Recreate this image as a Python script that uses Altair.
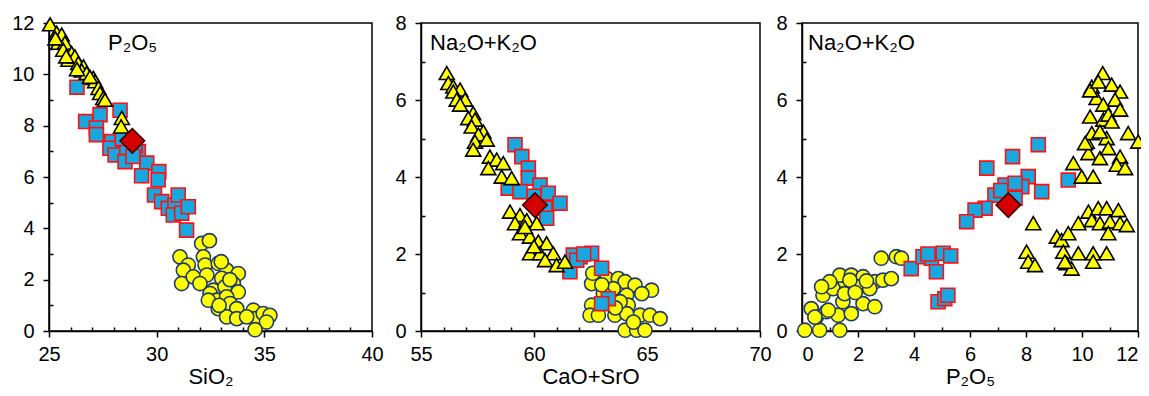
import altair as alt
import pandas as pd

# ---------------- Panel 1: P2O5 vs SiO2 ----------------
p1_tri_x = [25.05, 25.36, 25.59, 25.43, 25.74, 25.66, 26.05, 25.9, 26.2, 26.36, 26.6, 26.52, 26.75,
            27.06, 27.14, 26.9, 27.3, 27.37, 27.52, 27.6, 28.38, 28.35, 25.3, 25.8, 26.3]
p1_tri_y = [11.95, 11.62, 11.55, 11.23, 11.23, 10.96, 10.83, 10.57, 10.7, 10.44, 10.31, 10.15, 10.05,
            9.86, 9.73, 9.9, 9.47, 9.27, 9.08, 9.01, 8.3, 7.97, 11.4, 10.7, 10.2]
p1_sq_x = [26.3, 26.7, 27.37, 27.2, 27.2, 27.91, 27.83, 28.07, 28.61, 28.53, 28.3, 29.15, 29.0, 29.54,
           29.3, 30.1, 30.07, 29.9, 30.23, 30.54, 30.85, 31.0, 30.77, 31.16, 31.47, 31.39, 28.4, 28.9]
p1_sq_y = [9.5, 8.16, 8.43, 7.91, 7.65, 7.38, 7.12, 6.86, 6.99, 6.6, 8.6, 6.99, 7.2, 6.54,
           6.05, 6.21, 5.89, 5.3, 5.04, 4.78, 4.91, 5.3, 4.52, 4.59, 4.84, 3.93, 7.5, 6.8]
p1_ci_x = [32.09, 32.45, 31.08, 31.47, 31.24, 31.16, 31.7, 32.17, 32.25, 32.86, 32.33, 33.25, 33.79,
           33.02, 33.56, 32.63, 32.48, 33.17, 33.79, 32.79, 33.25, 33.41, 32.86, 33.72, 33.25, 33.72,
           34.49, 34.57, 34.95, 35.26, 35.1, 34.57, 34.18, 32.4, 32.01, 33.0, 33.4, 32.9]
p1_ci_y = [3.41, 3.52, 2.89, 2.57, 2.37, 1.85, 2.11, 2.89, 2.57, 2.63, 2.18, 2.37, 2.24,
           2.05, 1.85, 1.59, 1.46, 1.72, 1.52, 1.2, 1.33, 1.07, 0.87, 0.87, 0.55, 0.48,
           0.81, 0.48, 0.68, 0.61, 0.35, 0.05, 0.55, 1.2, 1.85, 2.7, 2.0, 1.0]
p1_dia_x = [28.87]
p1_dia_y = [7.41]

# ---------------- Panel 2: Na2O+K2O vs CaO+SrO ----------------
p2_tri_x = [56.14, 56.21, 56.43, 56.73, 56.43, 56.58, 56.95, 56.73, 57.31, 57.09, 57.39, 57.24, 57.76,
            57.54, 57.39, 57.91, 57.31, 58.05, 58.35, 57.98, 58.64, 58.57, 59.01, 58.94, 59.38, 59.16,
            59.68, 60.12, 59.38, 59.82, 60.19, 60.56, 59.82, 60.27, 60.85, 60.49, 61.0, 61.37, 60.0, 59.6]
p2_tri_y = [6.70, 6.44, 6.35, 6.27, 6.22, 6.01, 6.01, 5.88, 5.66, 5.53, 5.49, 5.31, 5.18,
            5.10, 4.92, 4.97, 4.71, 4.53, 4.45, 4.23, 4.36, 4.01, 3.97, 3.10, 3.01, 2.80,
            2.88, 2.80, 2.54, 2.45, 2.32, 2.28, 2.02, 2.02, 2.02, 1.84, 1.71, 1.80, 2.2, 2.7]
p2_sq_x = [59.16, 59.46, 59.75, 59.75, 60.27, 58.86, 59.38, 60.63, 61.15, 60.49, 60.56, 60.0,
           62.04, 62.55, 61.74, 61.59, 62.99, 61.89, 62.2, 63.29, 62.99]
p2_sq_y = [4.84, 4.53, 4.23, 3.97, 3.79, 3.71, 3.62, 3.58, 3.32, 3.19, 2.93, 3.5,
           1.93, 2.02, 1.97, 1.54, 1.63, 1.84, 2.0, 0.84, 0.71]
p2_ci_x = [62.77, 62.55, 63.22, 63.73, 64.03, 64.47, 65.2, 63.51, 63.07, 64.10, 64.77, 62.55, 62.48,
           62.85, 63.58, 64.17, 64.69, 65.13, 65.58, 64.10, 64.03, 64.54, 64.91, 64.40, 63.81, 62.6,
           63.0, 63.6]
p2_ci_y = [1.36, 1.23, 1.36, 1.36, 1.28, 1.19, 1.06, 1.10, 0.97, 0.93, 0.97, 0.67, 0.41,
           0.41, 0.41, 0.67, 0.41, 0.41, 0.32, 0.45, 0.02, 0.02, 0.02, 0.23, 0.76, 1.5,
           1.2, 0.6]
p2_dia_x = [60.04]
p2_dia_y = [3.27]

# ---------------- Panel 3: Na2O+K2O vs P2O5 ----------------
p3_ci_x = [0.1, 0.63, 1.35, 0.33, 0.51, 0.87, 1.29, 0.75, 1.46, 1.76, 1.40, 1.35, 1.76, 2.18, 2.6,
           2.18, 2.6, 2.06, 2.42, 2.89, 3.19, 2.83, 3.37, 3.55, 1.11, 0.99, 1.52, 0.70, 1.71, 0.46,
           0.94, 2.3, 1.9]
p3_ci_y = [0.02, 0.02, 0.02, 0.58, 0.36, 0.5, 0.41, 0.93, 0.76, 0.45, 1.1, 1.45, 1.45, 1.41, 1.28,
           0.71, 0.63, 1.15, 1.1, 1.32, 1.36, 1.89, 1.93, 1.89, 1.1, 1.28, 0.97, 1.15, 1.32, 0.36,
           0.54, 1.3, 1.0]
p3_sq_x = [3.9, 4.32, 4.62, 4.8, 5.04, 5.31, 4.5, 4.86, 5.1, 5.21, 8.44, 7.52, 6.6, 8.08, 7.85,
           7.25, 7.61, 8.56, 6.89, 9.51, 6.54, 6.18, 5.88, 7.61, 7.1]
p3_sq_y = [1.62, 1.93, 1.89, 1.54, 2.02, 1.95, 2.0, 0.76, 0.84, 0.93, 4.84, 4.53, 4.23, 4.01, 3.75,
           3.79, 3.84, 3.62, 3.53, 3.92, 3.19, 3.14, 2.84, 3.45, 3.65]
p3_tri_x = [10.74, 10.35, 11.06, 11.36, 10.52, 11.18, 10.76, 11.36, 10.29, 10.76, 10.94, 10.17, 10.35,
            10.88, 10.64, 11.65, 12.01, 10.23, 10.64, 10.94, 11.36, 11.24, 11.54, 9.69, 9.99, 10.40,
            10.29, 10.58, 11.06, 10.11,
            8.26, 8.02, 8.08, 8.32, 9.10, 9.27, 9.51, 9.87, 10.23, 10.58, 10.88, 11.30, 10.35,
            10.64, 11.0, 11.36, 10.94, 9.33, 9.87, 10.40, 10.88, 9.45, 9.63, 10.40, 11.6, 9.39]
p3_tri_y = [6.70, 6.35, 6.40, 6.22, 6.05, 6.01, 5.88, 5.75, 5.57, 5.49, 5.62, 4.92, 5.14,
            5.01, 5.18, 5.14, 4.92, 4.62, 4.49, 4.75, 4.53, 4.32, 4.23, 4.36, 4.01, 4.01,
            6.25, 6.48, 5.44, 4.88,
            2.80, 2.06, 1.80, 1.71, 2.45, 2.36, 2.54, 2.80, 3.10, 3.19, 3.19, 3.14, 2.88,
            2.80, 2.84, 2.80, 2.54, 2.06, 2.02, 2.02, 2.02, 1.76, 1.62, 1.80, 2.75, 1.80]
p3_dia_x = [7.37]
p3_dia_y = [3.27]

FONT = "Liberation Sans"
YELLOW = "#FFFF00"
BLUE = "#18A8E0"
RED = "#FF1010"
NAVY = "#1F3A6E"
DIA_FILL = "#D40000"
DIA_STROKE = "#3A0000"


def df(xs, ys):
    return pd.DataFrame({"x": xs, "y": ys})


def panel(xtitle, label, xdom, ydom, xmaj, ymaj, groups, width, height, label_dx, flush=False):
    xs = alt.Scale(domain=xdom, nice=False, zero=False)
    ys = alt.Scale(domain=ydom, nice=False, zero=False)
    xmajor = [v for v in range(xdom[0], xdom[1] + 1) if v % xmaj == 0]
    xminor = [v for v in range(xdom[0], xdom[1] + 1) if v % xmaj != 0]
    ymajor = [v for v in range(ydom[0], ydom[1] + 1) if v % ymaj == 0]
    yminor = [v for v in range(ydom[0], ydom[1] + 1) if v % ymaj != 0]
    xaxis = alt.Axis(title=xtitle, orient="bottom", values=xmajor, tickSize=6, labelPadding=7,
                     labelFlush=flush, labelOverlap=False, titlePadding=2)
    yaxis = alt.Axis(title=None, orient="left", values=ymajor, tickSize=6, labelPadding=9,
                     labelFlush=False, labelOverlap=False)
    xaxis_minor = alt.Axis(title=None, orient="bottom", values=xminor, labels=False, domain=False,
                           tickSize=alt.ExprRef("-4"))
    yaxis_minor = alt.Axis(title=None, orient="left", values=yminor, labels=False, domain=False,
                           tickSize=alt.ExprRef("-4"))
    circ, sq, tri, dia = groups
    l_circ = alt.Chart(circ).mark_point(
        shape="circle", filled=True, fill=YELLOW, stroke=NAVY, strokeWidth=1.6, size=200, opacity=1
    ).encode(x=alt.X("x:Q", scale=xs, axis=xaxis), y=alt.Y("y:Q", scale=ys, axis=yaxis))
    l_sq = alt.Chart(sq).mark_point(
        shape="square", filled=True, fill=BLUE, stroke=RED, strokeWidth=1.6, size=195, opacity=1
    ).encode(x=alt.X("x:Q", scale=xs, axis=xaxis_minor), y=alt.Y("y:Q", scale=ys, axis=yaxis_minor))
    l_tri = alt.Chart(tri).mark_point(
        shape="triangle-up", filled=True, fill=YELLOW, stroke="black", strokeWidth=1.6, size=225, opacity=1
    ).encode(x=alt.X("x:Q", scale=xs, axis=None), y=alt.Y("y:Q", scale=ys, axis=None))
    l_dia = alt.Chart(dia).mark_point(
        shape="diamond", filled=True, fill=DIA_FILL, stroke=DIA_STROKE, strokeWidth=1.6, size=600, opacity=1
    ).encode(x=alt.X("x:Q", scale=xs, axis=None), y=alt.Y("y:Q", scale=ys, axis=None))
    l_txt = alt.Chart(pd.DataFrame({"t": [label]})).mark_text(
        align="left", baseline="alphabetic", font=FONT, fontSize=22, color="black"
    ).encode(text="t:N", x=alt.value(label_dx), y=alt.value(27))
    return alt.layer(l_circ, l_sq, l_tri, l_dia, l_txt).resolve_axis(
        x="independent", y="independent"
    ).properties(width=width, height=height)


H = 308
c1 = panel("SiO₂", "P₂O₅", [25, 40], [0, 12], 5, 2,
           (df(p1_ci_x, p1_ci_y), df(p1_sq_x, p1_sq_y), df(p1_tri_x, p1_tri_y), df(p1_dia_x, p1_dia_y)),
           323, H, 59)
c2 = panel("CaO+SrO", "Na₂O+K₂O", [55, 70], [0, 8], 5, 2,
           (df(p2_ci_x, p2_ci_y), df(p2_sq_x, p2_sq_y), df(p2_tri_x, p2_tri_y), df(p2_dia_x, p2_dia_y)),
           339, H, 9)
c3 = panel("P₂O₅", "Na₂O+K₂O", [0, 12], [0, 8], 2, 2,
           (df(p3_ci_x, p3_ci_y), df(p3_sq_x, p3_sq_y), df(p3_tri_x, p3_tri_y), df(p3_dia_x, p3_dia_y)),
           336, H, 6, flush=True)

right = alt.hconcat(c2, c3, spacing=42).properties(bounds="flush")
chart = alt.hconcat(c1, right, spacing=49).properties(
    bounds="flush",
    autosize=alt.AutoSizeParams(type="none"),
    padding={"left": 41, "top": 15, "right": 1092, "bottom": 365},
).configure_axis(
    labelFont=FONT, labelFontSize=20, labelColor="black",
    titleFont=FONT, titleFontSize=22, titleFontWeight="normal", titleColor="black",
    domainColor="black", domainWidth=1.5, tickColor="black", tickWidth=1.5, grid=False,
).configure_view(stroke="black", strokeWidth=1.5)

chart.save("out.html", embed_options={"renderer": "svg", "actions": False})
